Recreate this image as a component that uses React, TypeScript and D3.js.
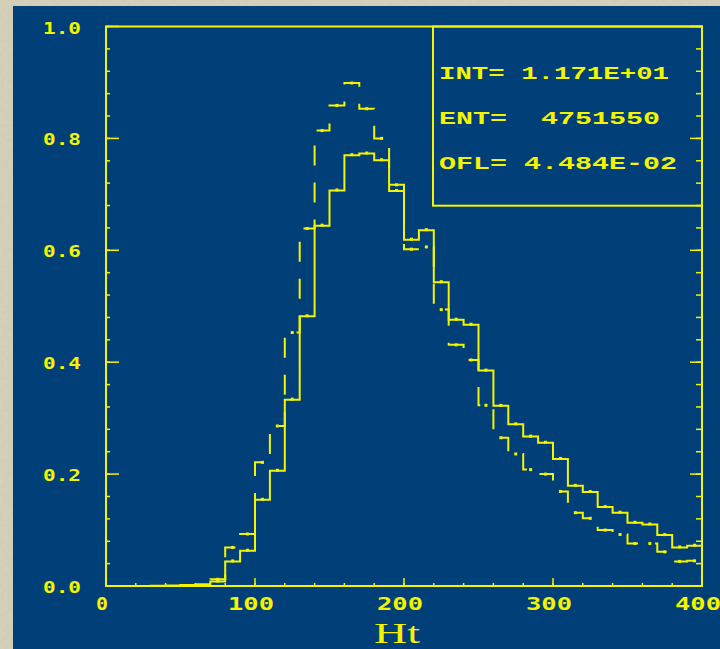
import React from "react";
import * as d3 from "d3";

// ---- data ----
const binEdges: number[] = d3.range(0, 400, 10);
const solidValues: number[] = [
  0, 0, 0, 0.0005, 0.001, 0.002, 0.003, 0.008, 0.044, 0.063,
  0.154, 0.206, 0.333, 0.482, 0.644, 0.707, 0.770, 0.773, 0.761, 0.706,
  0.619, 0.636, 0.543, 0.476, 0.467, 0.385, 0.322, 0.289, 0.267, 0.256,
  0.227, 0.179, 0.168, 0.141, 0.131, 0.113, 0.110, 0.091, 0.069, 0.072,
];
const dashedValues: number[] = [
  0, 0, 0, 0, 0, 0.001, 0.002, 0.012, 0.069, 0.093,
  0.221, 0.286, 0.453, 0.639, 0.814, 0.859, 0.899, 0.853, 0.800, 0.717,
  0.602, 0.606, 0.494, 0.431, 0.404, 0.323, 0.265, 0.236, 0.208, 0.200,
  0.169, 0.131, 0.121, 0.100, 0.092, 0.076, 0.076, 0.061, 0.044, 0.045,
];
const xTickLabels: number[] = [0, 100, 200, 300, 400];
const yTickLabels: string[] = ["0.0", "0.2", "0.4", "0.6", "0.8", "1.0"];
const statLines: string[] = ["INT= 1.171E+01", "ENT=  4751550", "OFL= 4.484E-02"];
const xTitle = "Ht";

const YELLOW = "#f4f400";
const BLUE = "#003f77";

export default function App() {
  const left = 106, right = 702, top = 26.5, bottom = 586;
  const x = d3.scaleLinear().domain([0, 400]).range([left, right]);
  const y = d3.scaleLinear().domain([0, 1]).range([bottom, top]);

  const line = d3
    .line<[number, number]>()
    .x((d) => x(d[0]))
    .y((d) => y(d[1]))
    .curve(d3.curveStepAfter);

  const pts = (vals: number[]): [number, number][] => {
    const p: [number, number][] = binEdges.map((e, i) => [e, vals[i]]);
    p.push([400, vals[vals.length - 1]]);
    return p;
  };

  const minorY = d3.range(0, 1.0001, 0.04);
  const majorY = d3.range(0, 1.0001, 0.2);
  const minorX = d3.range(0, 400.001, 20);
  const majorX = d3.range(0, 400.001, 100);

  const statX = 439;
  const statBase = [79, 124, 169];
  const statLen = [230, 221, 238];

  return (
    <svg
      width={720}
      height={649}
      style={{ position: "absolute", left: 0, top: 0 }}
    >
      <defs>
        <filter id="grain" x="0" y="0" width="100%" height="100%">
          <feTurbulence type="fractalNoise" baseFrequency="0.25" numOctaves="2" seed="3" />
          <feColorMatrix
            type="matrix"
            values="0 0 0 0 0.45  0 0 0 0 0.43  0 0 0 0 0.35  0 0 0 0.35 0"
          />
          <feComposite in2="SourceGraphic" operator="in" />
        </filter>
      </defs>
      <rect x={0} y={0} width={720} height={649} fill="#d6d2bb" />
      <rect x={0} y={0} width={720} height={649} fill="#d6d2bb" filter="url(#grain)" opacity={0.6} />
      <rect x={13} y={6} width={707} height={643} fill={BLUE} />

      {/* frame */}
      <rect
        x={left}
        y={top}
        width={right - left}
        height={bottom - top}
        fill="none"
        stroke={YELLOW}
        strokeWidth={2}
      />

      {/* left & right ticks */}
      {minorY.map((v, i) => (
        <g key={"my" + i}>
          <line x1={left} x2={left + 4} y1={y(v)} y2={y(v)} stroke={YELLOW} strokeWidth={1.5} />
          <line x1={right} x2={right - 6} y1={y(v)} y2={y(v)} stroke={YELLOW} strokeWidth={1.5} />
        </g>
      ))}
      {majorY.map((v, i) => (
        <g key={"My" + i}>
          <line x1={left} x2={left + 13} y1={y(v)} y2={y(v)} stroke={YELLOW} strokeWidth={1.5} />
          <line x1={right} x2={right - 12} y1={y(v)} y2={y(v)} stroke={YELLOW} strokeWidth={1.5} />
        </g>
      ))}
      {/* bottom ticks */}
      {minorX.map((v, i) => (
        <line key={"mx" + i} x1={x(v)} x2={x(v)} y1={bottom} y2={bottom - 3} stroke={YELLOW} strokeWidth={1.5} />
      ))}
      {majorX.map((v, i) => (
        <line key={"Mx" + i} x1={x(v)} x2={x(v)} y1={bottom} y2={bottom - 8} stroke={YELLOW} strokeWidth={1.5} />
      ))}

      {/* histograms */}
      <path
        d={line(pts(dashedValues)) || ""}
        fill="none"
        stroke={YELLOW}
        strokeWidth={2}
        strokeDasharray="20,17"
      />
      <path d={line(pts(solidValues)) || ""} fill="none" stroke={YELLOW} strokeWidth={2} />
      {dashedValues.map((v, i) =>
        v > 0.005 ? (
          <rect key={"dd" + i} x={x(binEdges[i] + 5) - 1.5} y={y(v) - 1.5} width={3} height={3} fill={YELLOW} />
        ) : null
      )}
      {solidValues.map((v, i) =>
        v > 0.005 ? (
          <rect key={"sd" + i} x={x(binEdges[i] + 5) - 1.5} y={y(v) - 2} width={3} height={3} fill={YELLOW} />
        ) : null
      )}

      {/* y tick labels */}
      {yTickLabels.map((t, i) => (
        <text
          key={"yl" + i}
          x={43}
          y={y(+t) + 7}
          fill={YELLOW}
          fontFamily="DejaVu Sans Mono"
          fontWeight="bold"
          fontSize={16.5}
          textLength={38}
          lengthAdjust="spacingAndGlyphs"
        >
          {t}
        </text>
      ))}
      {/* x tick labels */}
      {xTickLabels.map((t, i) => {
        const s = String(t);
        const w = s.length === 1 ? 12 : 46;
        return (
          <text
            key={"xl" + i}
            x={x(t) - 4 - w / 2}
            y={610}
            fill={YELLOW}
            fontFamily="DejaVu Sans Mono"
            fontWeight="bold"
            fontSize={17.5}
            textLength={w}
            lengthAdjust="spacingAndGlyphs"
          >
            {s}
          </text>
        );
      })}
      <text
        x={374}
        y={643}
        fill={YELLOW}
        fontFamily="Liberation Serif"
        fontSize={29}
        textLength={46}
        lengthAdjust="spacingAndGlyphs"
      >
        {xTitle}
      </text>

      {/* stats box */}
      <rect
        x={433}
        y={top}
        width={right - 433}
        height={205.7 - top}
        fill="none"
        stroke={YELLOW}
        strokeWidth={2}
      />
      {statLines.map((s, i) => (
        <text
          key={"st" + i}
          x={statX}
          y={statBase[i]}
          fill={YELLOW}
          fontFamily="Liberation Mono"
          fontWeight="bold"
          fontSize={18.5}
          textLength={statLen[i]}
          lengthAdjust="spacingAndGlyphs"
          style={{ whiteSpace: "pre" }}
        >
          {s}
        </text>
      ))}
    </svg>
  );
}
